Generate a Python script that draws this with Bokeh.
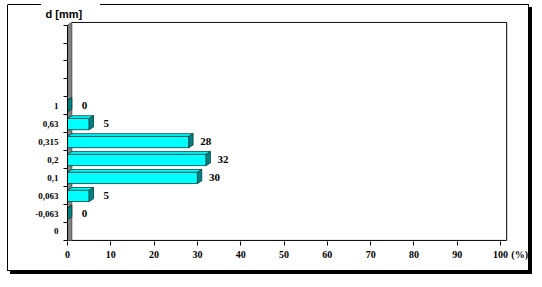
from bokeh.plotting import figure
from bokeh.models import Range1d, FixedTicker, Title, ColumnDataSource
from bokeh.embed import file_html
from bokeh.resources import INLINE

# ---- data ----
categories = ["0", "-0,063", "0,063", "0,1", "0,2", "0,315", "0,63", "1"]
values = [None, 0, 5, 30, 32, 28, 5, 0]
x_ticks = [0, 10, 20, 30, 40, 50, 60, 70, 80, 90, 100]
x_unit_label = "(%)"
n_slots = 12

# ---- style constants ----
DX = 1.0       # 3D depth in x (data units)
DY = 0.15      # 3D depth in y (slot units)
B0, B1 = 0.17, 0.8   # bar front bottom/top inside slot
WALL_R = 101.4       # right edge of back wall
UNIT_POS = 104.4     # where the unit label sits on the x axis
SERIF = "Liberation Serif"

p = figure(width=522, height=267, output_backend="svg", toolbar_location=None,
           x_range=Range1d(0, 106.9), y_range=Range1d(-0.06, n_slots + 0.2),
           min_border_left=59, min_border_right=0, min_border_top=16, min_border_bottom=31)
p.margin = (4, 0, 0, 7)
p.styles = {
    "border-left": "1px solid black",
    "border-right": "1px solid black",
    "border-bottom": "1px solid black",
    "border-top": "1px solid transparent",
    "box-shadow": "3px 3px 0 0 black",
    "background": ("linear-gradient(#000,#000) 0 0 / 34px 1px no-repeat border-box, "
                   "linear-gradient(#000,#000) 93px 0 / calc(100% - 93px) 1px no-repeat border-box, white"),
}
p.background_fill_color = "white"
p.border_fill_color = "white"
p.outline_line_color = None
p.xgrid.visible = False
p.ygrid.visible = False

# back wall outline (top, right) and floor line
TOP = n_slots + DY
p.line([DX, WALL_R, WALL_R], [TOP, TOP, 0], line_color="black", line_width=1)
p.line([0, WALL_R], [0, 0], line_color="black", line_width=1)

# side wall
p.patch([0, 0, DX, DX], [0, n_slots, n_slots + DY, 0], fill_color="#808080",
        line_color="#404040", line_width=0.8)

# bars (3D)
front = dict(left=[], right=[], bottom=[], top=[])
tops_x, tops_y, side_x, side_y = [], [], [], []
lab = dict(x=[], y=[], t=[])
for i, v in enumerate(values):
    if v is None:
        continue
    b, t = i + B0, i + B1
    front["left"].append(0); front["right"].append(v)
    front["bottom"].append(b); front["top"].append(t)
    tops_x.append([0, DX, v + DX, v]); tops_y.append([t, t + DY, t + DY, t])
    side_x.append([v, v + DX, v + DX, v]); side_y.append([b, b + DY, t + DY, t])
    lab["x"].append(v); lab["y"].append(i + 0.5); lab["t"].append(str(v))

p.quad(source=ColumnDataSource(front), left="left", right="right", bottom="bottom", top="top",
       fill_color="#00FFFF", line_color="#004040", line_width=0.8)
p.patches(tops_x, tops_y, fill_color="#00FFFF", line_color="#004040", line_width=0.8)
p.patches(side_x, side_y, fill_color="#008080", line_color="#004040", line_width=0.8)

p.text(x="x", y="y", text="t", source=ColumnDataSource(lab), x_offset=17,
       text_align="center", text_baseline="middle", text_font_size="11px",
       text_font_style="bold", text_font=SERIF, text_color="black")

# x axis: tick marks drawn as minor ticks, unit label as an extra major label
xa = p.xaxis[0]
xa.ticker = FixedTicker(ticks=x_ticks + [UNIT_POS], minor_ticks=x_ticks)
xa.major_label_overrides = {UNIT_POS: x_unit_label}
xa.axis_line_color = None
xa.major_tick_line_color = None
xa.major_tick_in = 0
xa.major_tick_out = 4
xa.minor_tick_in = 0
xa.minor_tick_out = 4
xa.minor_tick_line_color = "black"
xa.major_label_standoff = 3
xa.major_label_text_font = SERIF
xa.major_label_text_font_style = "bold"
xa.major_label_text_font_size = "10px"
xa.major_label_text_color = "black"

# y axis: category labels at slot centres, tick marks at slot edges
ya = p.yaxis[0]
centers = [i + 0.5 for i in range(len(categories))]
ya.ticker = FixedTicker(ticks=centers, minor_ticks=list(range(n_slots + 1)))
ya.major_label_overrides = {c: lab_ for c, lab_ in zip(centers, categories)}
ya.bounds = (0, n_slots)
ya.major_tick_line_color = None
ya.major_tick_in = 0
ya.major_tick_out = 4
ya.minor_tick_in = 0
ya.minor_tick_out = 4
ya.minor_tick_line_color = "black"
ya.major_label_standoff = 5
ya.major_label_text_font = SERIF
ya.major_label_text_font_style = "bold"
ya.major_label_text_font_size = "9px"
ya.major_label_text_color = "black"
ya.axis_line_color = "black"

# y axis title
p.add_layout(Title(text="d [mm]", align="left", offset=-22, standoff=0, vertical_align="top",
                   text_font="Liberation Sans", text_font_style="bold", text_font_size="11px",
                   text_color="black"), "above")

open("out.html", "w").write(file_html(p, INLINE))
